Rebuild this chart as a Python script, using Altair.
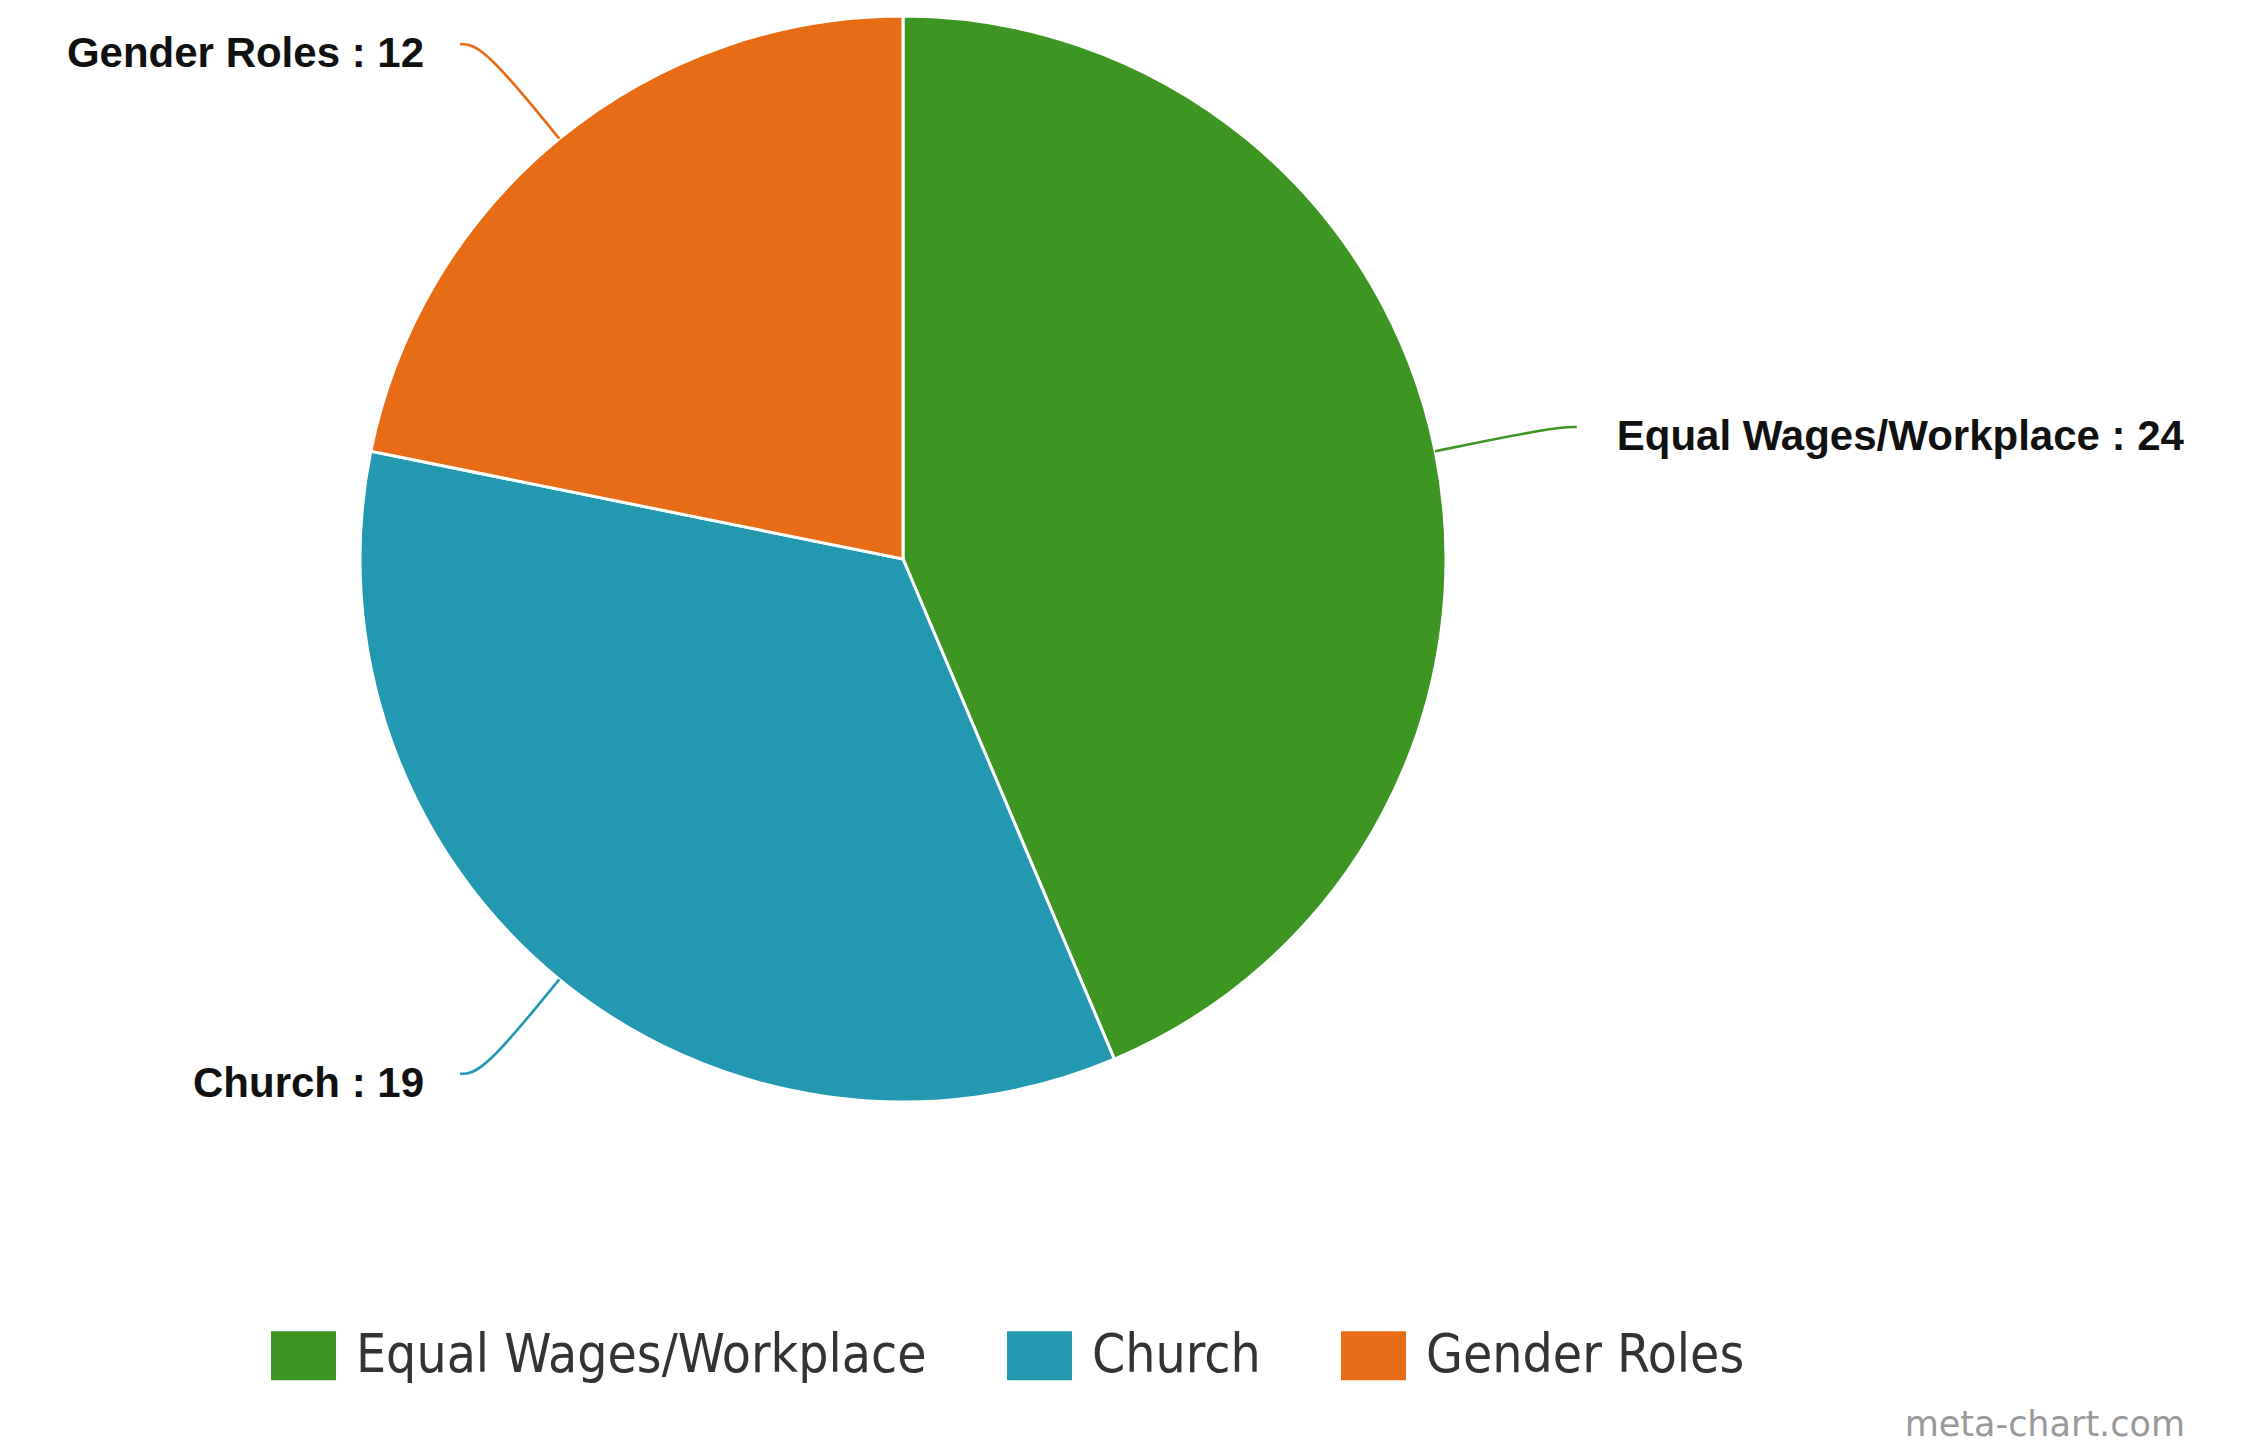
import math
import altair as alt
import pandas as pd

# ---- data ----
categories = ["Equal Wages/Workplace", "Church", "Gender Roles"]
values = [24, 19, 12]
colors = ["#3d9622", "#2398b1", "#e86b15"]

# ---- layout constants ----
W, H = 2243, 1436
CX, CY = 895, 551
R = 543
total = sum(values)

slices = pd.DataFrame({"cat": categories, "value": values, "idx": range(len(values))})

# connector paths and label anchors derived from slice mid-angles
conn_rows, lab_rows = [], []
cum = 0
for i, (c, v) in enumerate(zip(categories, values)):
    mid = (cum + v / 2) / total * 2 * math.pi
    cum += v
    s, co = math.sin(mid), math.cos(mid)
    side = 1 if s >= 0 else -1
    ex, ey = CX + R * s, CY - R * co
    kx, ky = CX + (R + 122) * s, CY - (R + 122) * co
    tx, ty = kx + side * 22, ky
    for j, (px, py) in enumerate([(ex, ey), (kx, ky), (tx, ty)]):
        conn_rows.append({"cat": c, "pt": j, "x": px, "y": py})
    gap = 40 if side > 0 else 36
    lab_rows.append({"cat": c, "label": f"{c} : {v}", "x": tx + side * gap, "y": ty + 10,
                     "side": "right" if side > 0 else "left"})
conn = pd.DataFrame(conn_rows)
labs = pd.DataFrame(lab_rows)

xs = alt.Scale(domain=[0, W], nice=False, zero=False)
ys = alt.Scale(domain=[0, H], nice=False, zero=False, reverse=True)
cs = alt.Scale(domain=categories, range=colors)

arcs = alt.Chart(slices).mark_arc(
    outerRadius=R, stroke="white", strokeWidth=3, x=CX, y=CY
).encode(
    theta=alt.Theta("value:Q", stack=True),
    order=alt.Order("idx:Q"),
    color=alt.Color(
        "cat:N", scale=cs, sort=categories,
        legend=alt.Legend(
            title=None, orient="none", direction="horizontal",
            legendX=263, legendY=1315,
            symbolType="M-1,-0.754H1V0.754H-1Z", symbolSize=4225,
            symbolStrokeWidth=0, symbolOpacity=1,
            labelFont="DejaVu Sans Condensed", labelFontSize=53,
            labelColor="#333333", labelOffset=20, columnPadding=80,
            labelLimit=1000, padding=0,
        ),
    ),
)

lines = alt.Chart(conn).mark_line(interpolate="basis", strokeWidth=2.6).encode(
    x=alt.X("x:Q", scale=xs, axis=None),
    y=alt.Y("y:Q", scale=ys, axis=None),
    order=alt.Order("pt:Q"),
    detail="cat:N",
    color=alt.Color("cat:N", scale=cs, legend=None),
)

lab_left = alt.Chart(labs).transform_filter(alt.datum.side == "right").mark_text(
    align="left", baseline="middle", font="Liberation Sans", fontWeight="bold",
    fontSize=42, color="#111111"
).encode(x=alt.X("x:Q", scale=xs, axis=None), y=alt.Y("y:Q", scale=ys, axis=None),
         text="label:N")

lab_right = alt.Chart(labs).transform_filter(alt.datum.side == "left").mark_text(
    align="right", baseline="middle", font="Liberation Sans", fontWeight="bold",
    fontSize=42, color="#111111"
).encode(x=alt.X("x:Q", scale=xs, axis=None), y=alt.Y("y:Q", scale=ys, axis=None),
         text="label:N")

credit = alt.Chart(pd.DataFrame({"t": ["meta-chart.com"]})).mark_text(
    align="right", baseline="alphabetic", font="DejaVu Sans", fontSize=35,
    color="#999999"
).encode(x=alt.value(2177), y=alt.value(1428), text="t:N")

chart = alt.layer(arcs, lines, lab_left, lab_right, credit).resolve_scale(
    color="shared"
).properties(
    width=W, height=H, autosize=alt.AutoSizeParams(type="none"), padding=0
).configure_view(stroke=None)

chart.save("out.html", embed_options={"renderer": "svg", "actions": False})
